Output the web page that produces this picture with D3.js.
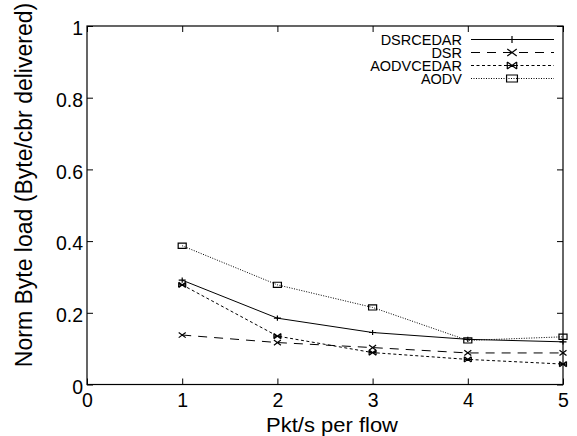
<!DOCTYPE html>
<html>
<head>
<meta charset="utf-8">
<script src="https://cdn.jsdelivr.net/npm/d3@7"></script>
<style>
  body { margin: 0; background: #fff; }
  text { font-family: "Liberation Sans", Arial, sans-serif; fill: #000; }
</style>
</head>
<body>
<svg id="graph-svg" width="577" height="436"></svg>
<script>
// data
const pktRates = [1, 2, 3, 4, 5];
const dsrcedar = [0.291, 0.185, 0.145, 0.126, 0.119];
const dsr = [0.138, 0.117, 0.103, 0.088, 0.088];
const aodvcedar = [0.278, 0.135, 0.089, 0.070, 0.057];
const aodv = [0.387, 0.278, 0.215, 0.123, 0.133];
const xTicks = [0, 1, 2, 3, 4, 5];
const yTicks = [0, 0.2, 0.4, 0.6, 0.8, 1];
const seriesNames = ["DSRCEDAR", "DSR", "AODVCEDAR", "AODV"];

const series = [
  {name: seriesNames[0], values: dsrcedar, dash: null, marker: "plus"},
  {name: seriesNames[1], values: dsr, dash: "9,7", marker: "cross"},
  {name: seriesNames[2], values: aodvcedar, dash: "3,2.5", marker: "star"},
  {name: seriesNames[3], values: aodv, dash: "1,1.5", marker: "box"}
];

const margin = {left: 87, top: 26, right: 14, bottom: 51.5};
const width = 577 - margin.left - margin.right,
  height = 436 - margin.top - margin.bottom;

const x = d3.scaleLinear().domain([0, 5]).range([0, width]);
const y = d3.scaleLinear().domain([0, 1]).range([height, 0]);

const svg = d3.select("#graph-svg")
  .append("g")
  .attr("transform", "translate(" + margin.left + "," + margin.top + ")");

// frame
svg.append("rect")
  .attr("width", width).attr("height", height)
  .attr("fill", "none").attr("stroke", "#000").attr("stroke-width", 1.2);

// axes, ticks drawn inward on all four sides
const fmtY = d => d === 0 ? "0" : d === 1 ? "1" : d3.format(".1f")(d);
svg.append("g").attr("transform", "translate(0," + height + ")")
  .call(d3.axisBottom(x).tickValues(xTicks).tickSizeInner(-6).tickSizeOuter(0).tickPadding(9).tickFormat(d3.format("d")));
const ay = svg.append("g")
  .call(d3.axisLeft(y).tickValues(yTicks).tickSizeInner(-6).tickSizeOuter(0).tickPadding(4).tickFormat(fmtY));
svg.append("g")
  .call(d3.axisTop(x).tickValues(xTicks).tickSizeInner(-6).tickSizeOuter(0).tickFormat(""));
svg.append("g").attr("transform", "translate(" + width + ",0)")
  .call(d3.axisRight(y).tickValues(yTicks).tickSizeInner(-6).tickSizeOuter(0).tickFormat(""));
svg.selectAll(".domain").remove();
svg.selectAll(".tick line").attr("stroke", "#000");
svg.selectAll(".tick text").style("font-size", "19.5px").attr("fill", "#000");
ay.selectAll(".tick text").attr("dy", "0.45em");

// axis titles
svg.append("text")
  .attr("x", 332 - margin.left).attr("y", 432 - margin.top)
  .attr("text-anchor", "middle").style("font-size", "19.5px")
  .attr("textLength", 132).attr("lengthAdjust", "spacingAndGlyphs")
  .text("Pkt/s per flow");
svg.append("text")
  .attr("transform", "translate(" + (31.5 - margin.left) + "," + (185 - margin.top) + ") rotate(-90)")
  .attr("text-anchor", "middle").style("font-size", "23px")
  .text("Norm Byte load (Byte/cbr delivered)");

function drawMarker(g, type, cx, cy, k) {
  const w = 3.5 * k, h = 2.6 * k;
  let p;
  if (type === "plus") p = `M${cx - w},${cy}H${cx + w}M${cx},${cy - h}V${cy + h}`;
  else if (type === "cross") p = `M${cx - w},${cy - h}L${cx + w},${cy + h}M${cx - w},${cy + h}L${cx + w},${cy - h}`;
  else if (type === "star") p = `M${cx - w},${cy - h}L${cx + w},${cy + h}M${cx - w},${cy + h}L${cx + w},${cy - h}M${cx - w},${cy}H${cx + w}M${cx - w},${cy - h}V${cy + h}M${cx + w},${cy - h}V${cy + h}`;
  else p = `M${cx - w * 1.15},${cy - h}H${cx + w * 1.15}V${cy + h}H${cx - w * 1.15}Z`;
  g.append("path").attr("d", p).attr("fill", "none").attr("stroke", "#000").attr("stroke-width", 1.2);
}

const line = d3.line()
  .x((d, i) => x(pktRates[i]))
  .y(d => y(d));

series.forEach(function (s) {
  svg.append("path")
    .datum(s.values)
    .attr("fill", "none").attr("stroke", "#000").attr("stroke-width", 1)
    .attr("stroke-dasharray", s.dash)
    .attr("d", line);
  const g = svg.append("g");
  s.values.forEach((v, i) => drawMarker(g, s.marker, x(pktRates[i]), y(v), 1));
});

// legend
const leg = svg.append("g").attr("transform", "translate(" + (471 - margin.left) + "," + (39.5 - margin.top) + ")");
series.forEach(function (s, i) {
  const ly = i * 13;
  leg.append("text")
    .attr("x", -9).attr("y", ly).attr("dy", "0.36em")
    .attr("text-anchor", "end").style("font-size", "14.5px")
    .text(s.name);
  leg.append("line")
    .attr("x1", 0).attr("x2", 83).attr("y1", ly).attr("y2", ly)
    .attr("stroke", "#000").attr("stroke-width", 1)
    .attr("stroke-dasharray", s.dash);
  drawMarker(leg, s.marker, 41, ly, 1.35);
});
</script>
</body>
</html>
